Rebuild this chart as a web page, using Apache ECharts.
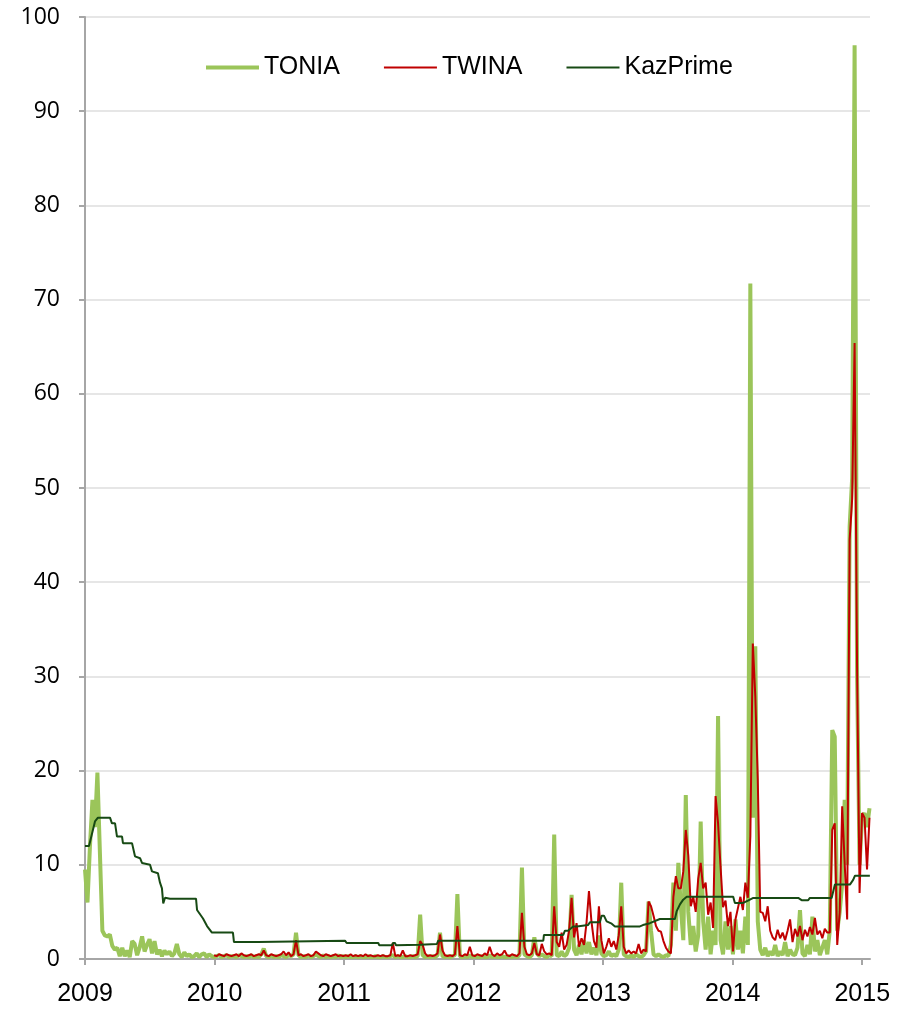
<!DOCTYPE html>
<html><head><meta charset="utf-8">
<script src="https://cdn.jsdelivr.net/npm/echarts@6/dist/echarts.min.js"></script>
<style>html,body{margin:0;padding:0;background:#fff}#chart{width:908px;height:1011px}</style>
</head><body><div id="chart"></div>
<script>
// Weekly observations starting 1 Jan 2009 (x in decimal years)
const startYear = 2009;
const weekStep = 7 / 365.25;
const yearTicks = [2009, 2010, 2011, 2012, 2013, 2014, 2015];
const seriesNames = ['TONIA', 'TWINA', 'KazPrime'];

// TONIA, weekly from week 0
const toniaValues = [
  9.5, 6.0, 12.0, 16.9, 14.0, 19.8, 11.3, 3.0, 2.5, 2.4,
  2.6, 1.4, 1.0, 1.2, 0.3, 1.2, 0.3, 0.9, 0.2, 1.9,
  1.6, 0.4, 1.2, 2.4, 0.8, 1.5, 2.1, 0.6, 1.9, 0.5,
  1.0, 0.3, 0.9, 0.5, 0.8, 0.3, 0.6, 1.6, 0.5, 0.2,
  0.7, 0.3, 0.5, 0.2, 0.3, 0.6, 0.2, 0.5, 0.6, 0.2,
  0.5, 0.3, 0.2, 0.3, 0.4, 0.2, 0.3, 0.4, 0.2, 0.3,
  0.3, 0.2, 0.4, 0.3, 0.2, 0.3, 0.2, 0.4, 0.2, 0.3,
  0.2, 0.5, 1.1, 0.3, 0.2, 0.4, 0.2, 0.3, 0.2, 0.4,
  0.3, 0.2, 0.4, 0.3, 0.5, 2.8, 0.4, 0.2, 0.3, 0.2,
  0.4, 0.2, 0.3, 0.5, 0.3, 0.2, 0.4, 0.2, 0.3, 0.2,
  0.3, 0.2, 0.4, 0.2, 0.3, 0.2, 0.3, 0.2, 0.2, 0.3,
  0.2, 0.3, 0.2, 0.2, 0.3, 0.2, 0.2, 0.3, 0.2, 0.2,
  0.3, 0.2, 0.2, 0.3, 0.4, 0.2, 0.3, 0.2, 0.2, 0.3,
  0.2, 0.2, 0.3, 0.2, 0.3, 4.7, 0.4, 0.2, 0.3, 0.2,
  0.3, 0.2, 0.4, 2.8, 0.3, 0.2, 0.3, 0.2, 0.3, 0.4,
  6.9, 0.3, 0.2, 0.3, 0.2, 0.4, 0.2, 0.3, 0.2, 0.2,
  0.3, 0.2, 0.2, 0.4, 0.2, 0.3, 0.2, 0.2, 0.3, 0.2,
  0.2, 0.3, 0.2, 0.3, 0.2, 0.4, 9.7, 0.5, 0.3, 0.2,
  0.4, 2.3, 0.6, 0.3, 0.5, 0.3, 0.2, 0.4, 0.3, 13.2,
  0.4, 0.3, 0.8, 0.3, 0.5, 1.2, 6.8, 1.0, 0.4, 1.5,
  0.5, 2.0, 0.6, 1.8, 0.5, 1.2, 0.4, 2.5, 0.6, 0.3,
  0.4, 0.8, 0.3, 0.5, 0.3, 1.0, 8.1, 0.5, 0.3, 0.2,
  0.4, 0.2, 0.5, 0.3, 0.2, 0.4, 0.8, 6.1, 3.0, 0.5,
  0.3, 0.5, 0.3, 0.2, 0.4, 0.3, 1.5, 8.1, 3.0, 10.2,
  5.5, 2.0, 17.4, 5.0, 1.5, 3.5, 0.8, 2.5, 14.6, 4.0,
  1.0, 4.5, 0.5, 3.0, 1.5, 25.8, 2.0, 0.5, 4.0, 1.0,
  3.5, 0.5, 4.2, 1.0, 3.0, 0.6, 4.5, 1.5, 71.7, 15.0,
  33.2, 4.0, 1.0, 0.4, 1.2, 0.3, 0.8, 0.4, 1.5, 0.3,
  0.8, 0.4, 1.8, 0.3, 1.0, 0.5, 0.4, 1.2, 5.2, 0.6,
  0.3, 1.5, 0.5, 4.5, 0.8, 2.0, 0.4, 1.2, 2.0, 0.5,
  3.0, 24.3, 23.6, 3.0, 5.0, 8.0, 16.9, 10.0, 45.9, 51.0,
  97.0, 30.0, 10.0, 15.0, 15.5, 14.0, 16.0
];

// TWINA, weekly from week 52 (start of 2010)
const twinaFirstWeek = 52;
const twinaValues = [
  0.4, 0.3, 0.5, 0.4, 0.3, 0.5, 0.4, 0.3,
  0.4, 0.5, 0.3, 0.6, 0.4, 0.3, 0.4, 0.5, 0.3, 0.4,
  0.5, 0.4, 0.9, 0.4, 0.3, 0.5, 0.4, 0.3, 0.4, 0.5,
  0.8, 0.4, 0.7, 0.3, 0.5, 2.0, 0.4, 0.5, 0.3, 0.4,
  0.5, 0.3, 0.4, 0.8, 0.6, 0.4, 0.3, 0.5, 0.4, 0.3,
  0.4, 0.5, 0.3, 0.4, 0.3, 0.4, 0.3, 0.5, 0.3, 0.4,
  0.3, 0.4, 0.3, 0.5, 0.3, 0.4, 0.3, 0.3, 0.4, 0.3,
  0.4, 0.3, 0.3, 0.4, 1.7, 0.3, 0.4, 0.3, 0.9, 0.3,
  0.3, 0.4, 0.3, 0.4, 0.5, 1.9, 1.5, 0.6, 0.3, 0.4,
  0.3, 0.4, 0.6, 2.6, 0.9, 0.4, 0.3, 0.4, 0.3, 0.5,
  3.5, 0.4, 0.3, 0.5, 0.4, 1.3, 0.4, 0.3, 0.5, 0.4,
  0.3, 0.6, 0.4, 1.3, 0.5, 0.3, 0.6, 0.4, 0.5, 0.9,
  0.4, 0.3, 0.5, 0.4, 0.3, 0.6, 4.9, 1.3, 0.5, 0.4,
  0.6, 1.7, 0.5, 0.4, 1.6, 0.8, 0.5, 0.6, 0.4, 5.6,
  1.8, 1.3, 2.8, 1.0, 1.5, 3.0, 6.5, 2.3, 3.8, 1.3,
  2.2, 1.5, 3.8, 7.2, 4.0, 1.9, 1.2, 5.6, 2.0, 0.6,
  1.3, 2.2, 1.3, 1.9, 1.0, 2.5, 5.6, 1.3, 0.6, 0.9,
  0.6, 0.8, 0.6, 1.6, 0.6, 1.0, 0.8, 6.1, 5.6, 4.6,
  3.5, 3.0, 2.9, 1.9, 1.2, 0.8, 0.6, 6.6, 8.8, 7.5,
  7.5, 9.3, 13.7, 11.0, 5.6, 6.6, 5.0, 8.5, 10.2, 7.5,
  8.1, 4.7, 6.0, 3.3, 17.3, 14.4, 9.8, 5.5, 6.2, 3.5,
  5.0, 0.8, 4.2, 5.4, 6.6, 5.2, 8.1, 6.5, 13.0, 33.5,
  27.9, 19.0, 5.0, 4.9, 4.0, 5.6, 3.0, 2.3, 2.0, 3.1,
  2.2, 2.8, 2.0, 3.0, 4.2, 1.8, 3.2, 2.4, 3.5, 2.0,
  3.1, 2.4, 3.4, 2.6, 4.35, 2.6, 3.0, 2.2, 3.2, 2.8,
  2.8, 13.7, 14.4, 1.5, 5.0, 16.2, 10.2, 4.2, 44.5, 48.8,
  65.4, 31.0, 7.0, 15.5, 15.0, 9.5, 15.0
];

// KazPrime: step changes (decimal year, rate)
const kazYears = [
  2009.000, 2009.031, 2009.077, 2009.100, 2009.193, 2009.208, 2009.232, 2009.247, 2009.286, 2009.293,
  2009.363, 2009.386, 2009.425, 2009.440, 2009.502, 2009.517, 2009.563, 2009.579, 2009.594, 2009.604,
  2009.618, 2009.656, 2009.857, 2009.865, 2009.911, 2009.942, 2009.980, 2010.142, 2010.150, 2010.335,
  2010.345, 2011.007, 2011.020, 2011.264, 2011.272, 2011.370, 2011.377, 2011.393, 2011.401, 2011.586,
  2011.594, 2011.717, 2011.727, 2012.538, 2012.543, 2012.692, 2012.705, 2012.728, 2012.769, 2012.798,
  2012.805, 2012.883, 2012.898, 2012.975, 2012.988, 2013.006, 2013.027, 2013.066, 2013.091, 2013.284,
  2013.307, 2013.361, 2013.438, 2013.554, 2013.567, 2013.593, 2013.618, 2013.645, 2014.004, 2014.017,
  2014.081, 2014.118, 2014.159, 2014.506, 2014.532, 2014.583, 2014.596, 2014.764, 2014.789, 2014.905,
  2014.930, 2014.944, 2015.059
];
const kazValues = [
  12.0, 12.0, 14.6, 15.0, 15.0, 14.4, 14.4, 13.0, 13.0, 12.3,
  12.3, 10.9, 10.7, 10.2, 10.0, 9.3, 9.1, 8.1, 7.5, 5.9,
  6.5, 6.4, 6.4, 5.2, 4.3, 3.5, 2.8, 2.8, 1.8, 1.8,
  1.95, 1.95, 1.7, 1.7, 1.45, 1.45, 1.7, 1.7, 1.45, 1.5,
  1.6, 1.6, 1.94, 1.94, 2.55, 2.55, 3.0, 3.0, 3.46, 3.46,
  3.6, 3.6, 3.9, 3.9, 4.6, 4.6, 4.0, 3.75, 3.46, 3.46,
  3.6, 3.8, 4.25, 4.25, 5.05, 5.8, 6.3, 6.6, 6.6, 5.95,
  5.95, 6.2, 6.48, 6.48, 6.25, 6.25, 6.48, 6.48, 7.9, 7.9,
  8.4, 8.85, 8.85
];

const seriesColors = ['#9BC55A', '#C00000', '#174A14'];
const seriesWidths = [4, 2, 2];

function weekly(values, firstWeek) {
  return values.map((v, k) => [startYear + (firstWeek + k) * weekStep, v]);
}
function paired(xs, ys) {
  return xs.map((x, k) => [x, ys[k]]);
}

const axisGray = '#a6a6a6';
const chart = echarts.init(document.getElementById('chart'), null, { renderer: 'canvas' });
chart.setOption({
  animation: false,
  backgroundColor: '#ffffff',
  grid: { left: 85, right: 38, top: 17, bottom: 52, containLabel: false },
  legend: {
    top: 50, left: 199,
    itemWidth: 53, itemHeight: 14, itemGap: 43,
    data: seriesNames.map((n, k) => ({ name: n, lineStyle: { width: seriesWidths[k], color: seriesColors[k] } })),
    itemStyle: { opacity: 0 },
    textStyle: { fontFamily: '"Liberation Sans", Arial', fontSize: 25, color: '#000' }
  },
  xAxis: {
    type: 'value', min: 2009, max: 2015.06, interval: 1,
    axisLine: { show: true, lineStyle: { color: axisGray, width: 2 } },
    axisTick: { show: true, length: 6, inside: false, customValues: yearTicks, lineStyle: { color: axisGray, width: 2 } },
    axisLabel: { customValues: yearTicks, formatter: v => String(v), fontFamily: '"Liberation Sans", Arial', fontSize: 25, color: '#000', margin: 23 },
    splitLine: { show: false }
  },
  yAxis: {
    type: 'value', min: 0, max: 100, interval: 10,
    axisLine: { show: true, lineStyle: { color: axisGray, width: 2 } },
    axisTick: { show: true, length: 6, lineStyle: { color: axisGray, width: 2 } },
    axisLabel: { fontFamily: '"Open Sans", sans-serif', fontSize: 23, color: '#000', margin: 25 },
    splitLine: { show: true, lineStyle: { color: '#e6e6e6', width: 2 } }
  },
  series: [
    { name: 'TONIA', type: 'line', symbol: 'none', showSymbol: false, data: weekly(toniaValues, 0),
      lineStyle: { color: seriesColors[0], width: seriesWidths[0] }, itemStyle: { color: seriesColors[0] }, z: 2 },
    { name: 'TWINA', type: 'line', symbol: 'none', showSymbol: false, data: weekly(twinaValues, twinaFirstWeek),
      lineStyle: { color: seriesColors[1], width: seriesWidths[1] }, itemStyle: { color: seriesColors[1] }, z: 3 },
    { name: 'KazPrime', type: 'line', symbol: 'none', showSymbol: false, data: paired(kazYears, kazValues),
      lineStyle: { color: seriesColors[2], width: seriesWidths[2] }, itemStyle: { color: seriesColors[2] }, z: 4 }
  ]
});
</script>
</body></html>
